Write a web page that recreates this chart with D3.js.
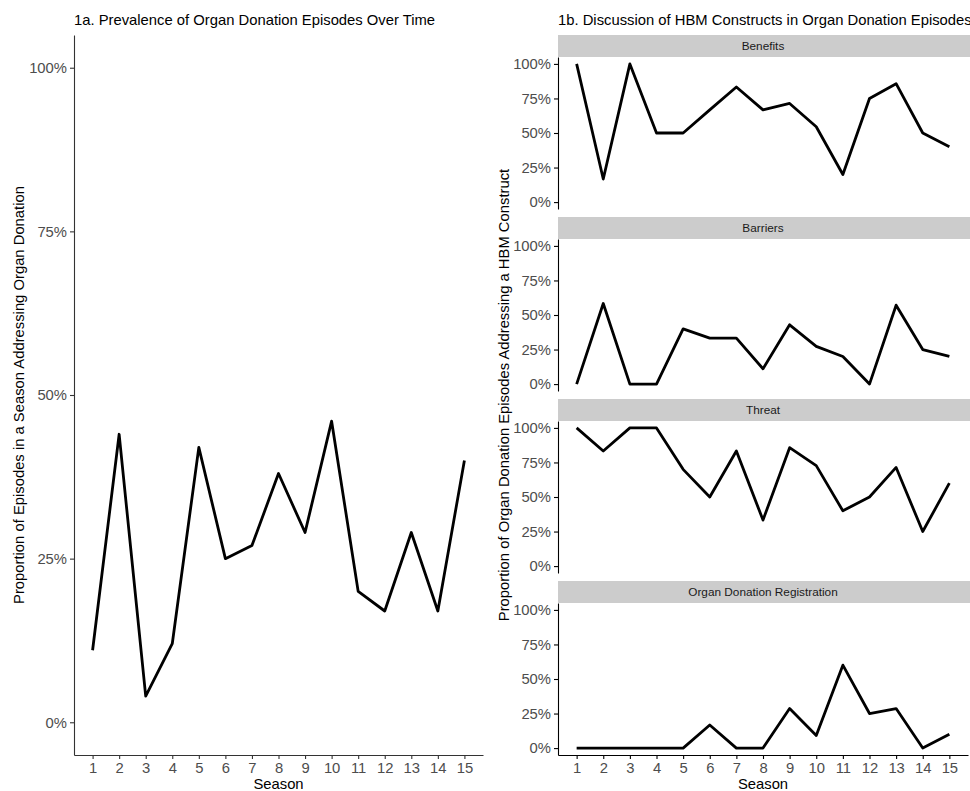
<!DOCTYPE html>
<html>
<head>
<meta charset="utf-8">
<script src="https://cdn.jsdelivr.net/npm/d3@7"></script>
<style>
  body { margin: 0; background: #fff; }
  svg { display: block; font-family: "Liberation Sans", Arial, sans-serif; }
</style>
</head>
<body>
<div id="chart"></div>
<script>
const seasons = [1,2,3,4,5,6,7,8,9,10,11,12,13,14,15];
const prevalence = [0.11,0.44,0.04,0.12,0.42,0.25,0.27,0.38,0.29,0.46,0.20,0.17,0.29,0.17,0.40];

const facetNames = ['Benefits','Barriers','Threat','Organ Donation Registration'];
const benefits = [1.0,0.167,1.0,0.5,0.5,0.667,0.833,0.667,0.714,0.545,0.2,0.75,0.857,0.5,0.4];
const barriers = [0,0.583,0,0,0.4,0.333,0.333,0.111,0.429,0.273,0.2,0,0.571,0.25,0.2];
const threat = [1.0,0.833,1.0,1.0,0.7,0.5,0.833,0.333,0.857,0.727,0.4,0.5,0.714,0.25,0.6];
const registration = [0,0,0,0,0,0.167,0,0,0.286,0.091,0.6,0.25,0.286,0,0.1];
const facetValues = [benefits, barriers, threat, registration];

const yTicks = [0,0.25,0.5,0.75,1];

const W = 970, H = 791;
const svg = d3.select('#chart').append('svg').attr('width', W).attr('height', H);

const plotTop = 35, plotBottom = 755;
const textCol = '#4d4d4d';
const fs = 14.8;
const pct = d3.format('.0%');

function styleAxis(g, lineCol) {
  g.selectAll('.domain').attr('stroke', lineCol).attr('stroke-width', 1.1);
  g.selectAll('.tick line').attr('stroke', lineCol).attr('stroke-width', 1.1);
  g.selectAll('.tick text').attr('fill', textCol).attr('font-size', fs);
}

// ---- 1a ----
const xL = d3.scaleLinear().domain([0.3, 15.7]).range([74, 483]);
const yL = d3.scaleLinear().domain([-0.05, 1.05]).range([plotBottom, plotTop]);

svg.append('text').attr('x', 74).attr('y', 25).attr('font-size', fs).attr('fill', '#000')
  .text('1a. Prevalence of Organ Donation Episodes Over Time');

const gyL = svg.append('g').attr('transform', 'translate(74,0)')
  .call(d3.axisLeft(yL).tickValues(yTicks).tickFormat(pct).tickSize(4).tickSizeOuter(0).tickPadding(3));
styleAxis(gyL, '#333');
const gxL = svg.append('g').attr('transform', `translate(0,${plotBottom})`)
  .call(d3.axisBottom(xL).tickValues(seasons).tickFormat(d3.format('d')).tickSize(4).tickSizeOuter(0).tickPadding(3));
styleAxis(gxL, '#333');

svg.append('path').datum(prevalence)
  .attr('fill', 'none').attr('stroke', '#000').attr('stroke-width', 2.8).attr('stroke-linejoin', 'round')
  .attr('d', d3.line().x((d, i) => xL(seasons[i])).y(d => yL(d)));

svg.append('text').attr('transform', `translate(24,${(plotTop + plotBottom) / 2}) rotate(-90)`)
  .attr('text-anchor', 'middle').attr('font-size', fs).attr('fill', '#000')
  .text('Proportion of Episodes in a Season Addressing Organ Donation');
svg.append('text').attr('x', xL(8)).attr('y', 789).attr('text-anchor', 'middle')
  .attr('font-size', fs).attr('fill', '#000').text('Season');

// ---- 1b ----
const xR = d3.scaleLinear().domain([0.3, 15.7]).range([558, 968]);
const stripH = 22, gap = 8;
const panelH = (plotBottom - plotTop - 4 * stripH - 3 * gap) / 4;

svg.append('text').attr('x', 558).attr('y', 25).attr('font-size', fs).attr('fill', '#000')
  .text('1b. Discussion of HBM Constructs in Organ Donation Episodes');

facetNames.forEach((name, k) => {
  const sTop = plotTop + k * (stripH + panelH + gap);
  const pTop = sTop + stripH;
  const pBot = pTop + panelH;
  const y = d3.scaleLinear().domain([-0.05, 1.05]).range([pBot, pTop]);

  svg.append('rect').attr('x', 558).attr('y', sTop).attr('width', 970 - 558).attr('height', stripH)
    .attr('fill', '#cccccc');
  svg.append('text').attr('x', xR(8)).attr('y', sTop + stripH / 2 + 4).attr('text-anchor', 'middle')
    .attr('font-size', 11.8).attr('fill', '#1a1a1a').text(name);

  const gy = svg.append('g').attr('transform', 'translate(558,0)')
    .call(d3.axisLeft(y).tickValues(yTicks).tickFormat(pct).tickSize(4).tickSizeOuter(0).tickPadding(3));
  styleAxis(gy, '#000');

  if (k === facetNames.length - 1) {
    const gx = svg.append('g').attr('transform', `translate(0,${pBot})`)
      .call(d3.axisBottom(xR).tickValues(seasons).tickFormat(d3.format('d')).tickSize(4).tickSizeOuter(0).tickPadding(3));
    styleAxis(gx, '#000');
  }

  svg.append('path').datum(facetValues[k])
    .attr('fill', 'none').attr('stroke', '#000').attr('stroke-width', 2.8).attr('stroke-linejoin', 'round')
    .attr('d', d3.line().x((d, i) => xR(seasons[i])).y(d => y(d)));
});

svg.append('text').attr('transform', `translate(509,${(plotTop + plotBottom) / 2}) rotate(-90)`)
  .attr('text-anchor', 'middle').attr('font-size', fs).attr('fill', '#000')
  .text('Proportion of Organ Donation Episodes Addressing a HBM Construct');
svg.append('text').attr('x', xR(8)).attr('y', 789).attr('text-anchor', 'middle')
  .attr('font-size', fs).attr('fill', '#000').text('Season');
</script>
</body>
</html>
